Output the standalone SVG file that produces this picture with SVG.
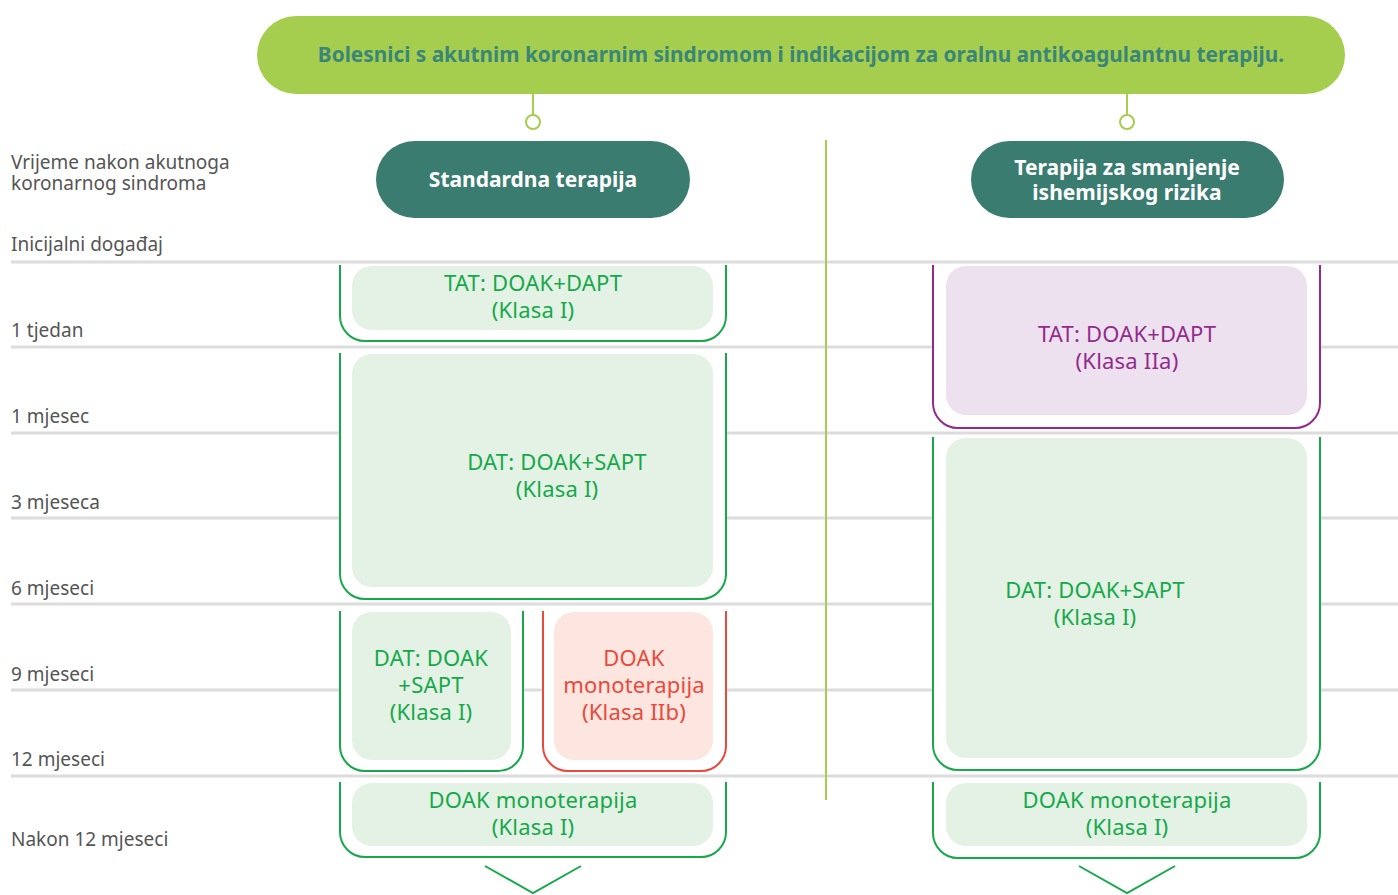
<svg xmlns="http://www.w3.org/2000/svg" width="1398" height="895" viewBox="0 0 1398 895">
<style>
text{font-family:"Noto Sans","Open Sans",sans-serif}
.lbl{font-size:19px;fill:#555555}
.grid{stroke:#dcdcdc;stroke-width:3}
.br{fill:#ffffff;stroke-width:2}
.g{stroke:#17a84b}
.r{stroke:#e84a3c}
.p{stroke:#922b8c}
.bg{fill:#e3f2e4}
.bp{fill:#ede1ef}
.bo{fill:#fde6df}
.tg,.tr,.tp{font-size:22px;text-anchor:middle;letter-spacing:0.2px}
.tg{fill:#17a84b}
.tr{fill:#e84a3c}
.tp{fill:#922b8c}
.pill{fill:#3a7c6f}
.tw{fill:#ffffff;font-size:21px;font-weight:bold;text-anchor:middle}
.conn{stroke:#a6ce4e;stroke-width:2;fill:none}
.chev{stroke:#17a84b;stroke-width:2;fill:none}
</style>
<rect width="1398" height="895" fill="#ffffff"/>
<g id="grid">
<line class="grid" x1="11" y1="262" x2="1398" y2="262"/>
<line class="grid" x1="11" y1="347" x2="1398" y2="347"/>
<line class="grid" x1="11" y1="433" x2="1398" y2="433"/>
<line class="grid" x1="11" y1="518" x2="1398" y2="518"/>
<line class="grid" x1="11" y1="604" x2="1398" y2="604"/>
<line class="grid" x1="11" y1="690" x2="1398" y2="690"/>
<line class="grid" x1="11" y1="776" x2="1398" y2="776"/>
</g>
<g id="labels">
<text class="lbl" x="11" y="169">Vrijeme nakon akutnoga</text>
<text class="lbl" x="11" y="190">koronarnog sindroma</text>
<text class="lbl" x="11" y="251">Inicijalni događaj</text>
<text class="lbl" x="11" y="337">1 tjedan</text>
<text class="lbl" x="11" y="423">1 mjesec</text>
<text class="lbl" x="11" y="509">3 mjeseca</text>
<text class="lbl" x="11" y="595">6 mjeseci</text>
<text class="lbl" x="11" y="681">9 mjeseci</text>
<text class="lbl" x="11" y="766">12 mjeseci</text>
<text class="lbl" x="11" y="846">Nakon 12 mjeseci</text>
</g>
<g id="connectors">
<line class="conn" x1="826" y1="140" x2="826" y2="800"/>
<line class="conn" x1="533" y1="94" x2="533" y2="115"/>
<circle class="conn" cx="533" cy="122" r="7" fill="#ffffff"/>
<line class="conn" x1="1127" y1="94" x2="1127" y2="115"/>
<circle class="conn" cx="1127" cy="122" r="7" fill="#ffffff"/>
<polyline class="chev" points="485,866 533,893 581,866"/>
<polyline class="chev" points="1079,866 1127,893 1175,866"/>
</g>
<g id="banner">
<rect x="257" y="16" width="1088" height="78" rx="39" fill="#a6ce4e"/>
<text x="801" y="62" font-size="20.8" font-weight="bold" fill="#3a8677" text-anchor="middle">Bolesnici s akutnim koronarnim sindromom i indikacijom za oralnu antikoagulantnu terapiju.</text>
</g>
<g id="standard-header">
<rect class="pill" x="376" y="141" width="314" height="77" rx="38.5"/>
<text class="tw" x="533" y="187">Standardna terapija</text>
</g>
<g id="ischemic-header">
<rect class="pill" x="971" y="141" width="313" height="77" rx="38.5"/>
<text class="tw" x="1127" y="175">Terapija za smanjenje</text>
<text class="tw" x="1127" y="200">ishemijskog rizika</text>
</g>
<g id="std-tat">
<path class="br g" d="M340,265 V316 A25,25 0 0 0 365,341 H701 A25,25 0 0 0 726,316 V265"/>
<rect class="bg" x="352" y="266" width="361" height="64" rx="20"/>
<text class="tg" x="533" y="291">TAT: DOAK+DAPT</text>
<text class="tg" x="533" y="318">(Klasa I)</text>
</g>
<g id="std-dat">
<path class="br g" d="M340,353 V574 A25,25 0 0 0 365,599 H701 A25,25 0 0 0 726,574 V353"/>
<rect class="bg" x="352" y="354" width="361" height="233" rx="20"/>
<text class="tg" x="557" y="470">DAT: DOAK+SAPT</text>
<text class="tg" x="557" y="497">(Klasa I)</text>
</g>
<g id="std-dat2">
<path class="br g" d="M340,611 V746 A25,25 0 0 0 365,771 H498 A25,25 0 0 0 523,746 V611"/>
<rect class="bg" x="352" y="612" width="159" height="148" rx="20"/>
<text class="tg" x="431" y="666">DAT: DOAK</text>
<text class="tg" x="431" y="693">+SAPT</text>
<text class="tg" x="431" y="720">(Klasa I)</text>
</g>
<g id="std-mono-iib">
<path class="br r" d="M543,611 V746 A25,25 0 0 0 568,771 H701 A25,25 0 0 0 726,746 V611"/>
<rect class="bo" x="554" y="612" width="159" height="148" rx="20"/>
<text class="tr" x="634" y="666">DOAK</text>
<text class="tr" x="634" y="693">monoterapija</text>
<text class="tr" x="634" y="720">(Klasa IIb)</text>
</g>
<g id="std-mono">
<path class="br g" d="M340,782 V832 A25,25 0 0 0 365,857 H701 A25,25 0 0 0 726,832 V782"/>
<rect class="bg" x="352" y="783" width="361" height="63" rx="20"/>
<text class="tg" x="533" y="808">DOAK monoterapija</text>
<text class="tg" x="533" y="835">(Klasa I)</text>
</g>
<g id="isch-tat">
<path class="br p" d="M933,265 V403 A25,25 0 0 0 958,428 H1295 A25,25 0 0 0 1320,403 V265"/>
<rect class="bp" x="946" y="266" width="361" height="149" rx="20"/>
<text class="tp" x="1127" y="342">TAT: DOAK+DAPT</text>
<text class="tp" x="1127" y="369">(Klasa IIa)</text>
</g>
<g id="isch-dat">
<path class="br g" d="M933,437 V745 A25,25 0 0 0 958,770 H1295 A25,25 0 0 0 1320,745 V437"/>
<rect class="bg" x="946" y="438" width="361" height="320" rx="20"/>
<text class="tg" x="1095" y="598">DAT: DOAK+SAPT</text>
<text class="tg" x="1095" y="625">(Klasa I)</text>
</g>
<g id="isch-mono">
<path class="br g" d="M933,782 V833 A25,25 0 0 0 958,858 H1295 A25,25 0 0 0 1320,833 V782"/>
<rect class="bg" x="946" y="783" width="361" height="63" rx="20"/>
<text class="tg" x="1127" y="808">DOAK monoterapija</text>
<text class="tg" x="1127" y="835">(Klasa I)</text>
</g>
</svg>
